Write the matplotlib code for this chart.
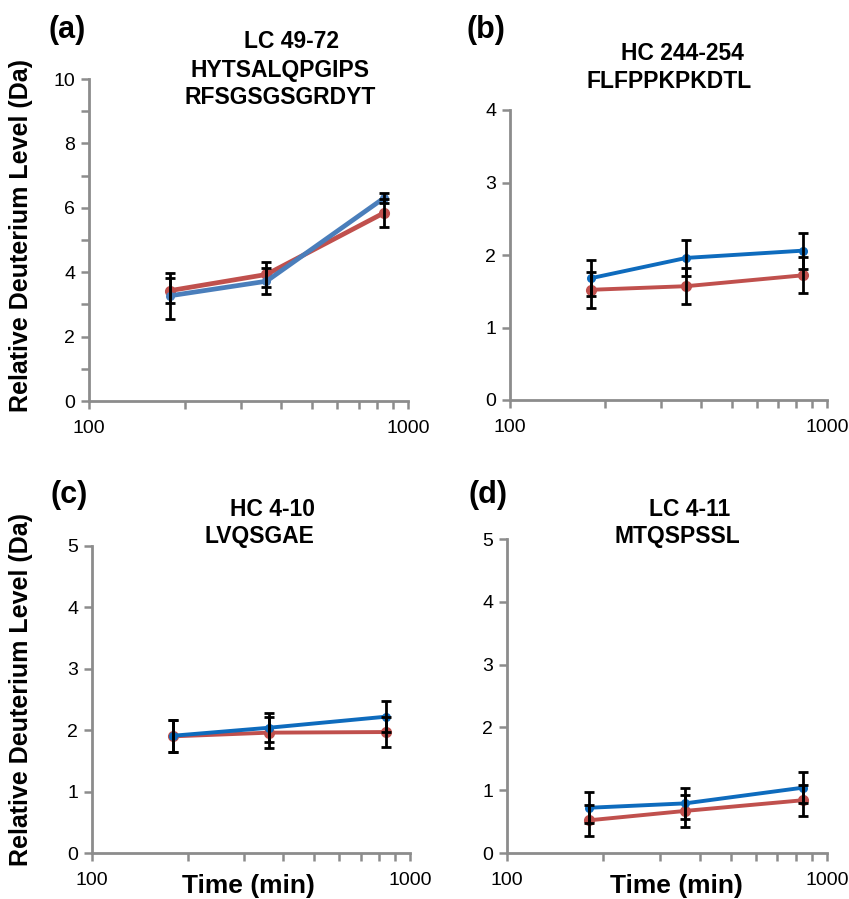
import matplotlib
matplotlib.use('Agg')
import matplotlib.pyplot as plt
from matplotlib.ticker import FixedLocator, NullFormatter

plt.rcParams['font.family'] = ['Liberation Sans', 'DejaVu Sans']

times = [180, 360, 840]

# panel (a) LC 49-72
a_blue = [3.27, 3.72, 6.30]
a_blue_err = [0.71, 0.40, 0.16]
a_red = [3.43, 3.93, 5.84]
a_red_err = [0.38, 0.38, 0.44]

# panel (b) HC 244-254
b_blue = [1.68, 1.96, 2.06]
b_blue_err = [0.25, 0.25, 0.25]
b_red = [1.52, 1.57, 1.72]
b_red_err = [0.25, 0.25, 0.25]

# panel (c) HC 4-10
c_blue = [1.91, 2.04, 2.22]
c_blue_err = [0.26, 0.24, 0.25]
c_red = [1.90, 1.96, 1.97]
c_red_err = [0.26, 0.25, 0.25]

# panel (d) LC 4-11
d_blue = [0.72, 0.79, 1.04]
d_blue_err = [0.25, 0.25, 0.25]
d_red = [0.52, 0.67, 0.84]
d_red_err = [0.25, 0.25, 0.25]

panel_tags = ['(a)', '(b)', '(c)', '(d)']
titles = [['LC 49-72', 'HYTSALQPGIPS', 'RFSGSGSGRDYT'],
          ['HC 244-254', 'FLFPPKPKDTL'],
          ['HC 4-10', 'LVQSGAE'],
          ['LC 4-11', 'MTQSPSSL']]
ymax = [10, 4, 5, 5]
yticks = [[0, 2, 4, 6, 8, 10], [0, 1, 2, 3, 4], [0, 1, 2, 3, 4, 5], [0, 1, 2, 3, 4, 5]]
ylabel = 'Relative Deuterium Level (Da)'
xlabel = 'Time (min)'

W, H = 849, 899
fig = plt.figure(figsize=(W / 100, H / 100), dpi=100)


def px_axes(x0, x1, y0, y1):
    return fig.add_axes([x0 / W, 1 - y1 / H, (x1 - x0) / W, (y1 - y0) / H])


boxes = [(89, 408, 79, 401), (510, 827, 110, 400), (92, 410, 546, 853), (507, 827, 539, 853)]
data = [(a_blue, a_blue_err, a_red, a_red_err),
        (b_blue, b_blue_err, b_red, b_red_err),
        (c_blue, c_blue_err, c_red, c_red_err),
        (d_blue, d_blue_err, d_red, d_red_err)]
blues = ['#4a7ebb', '#0e6bbd', '#0e6bbd', '#0e6bbd']
lws = [3.4, 2.8, 2.8, 2.8]
grey = '#8c8c8c'

axes = []
for i, box in enumerate(boxes):
    ax = px_axes(*box)
    blue, blue_err, red, red_err = data[i]
    ax.plot(times, red, color='#c0504d', lw=lws[i], marker='o', ms=7, zorder=2)
    ax.plot(times, blue, color=blues[i], lw=lws[i], marker='o', ms=5.5, zorder=3)
    ax.errorbar(times, red, yerr=red_err, fmt='none', ecolor='black', elinewidth=2,
                capsize=3.5, capthick=2, zorder=4)
    ax.errorbar(times, blue, yerr=blue_err, fmt='none', ecolor='black', elinewidth=2,
                capsize=3.5, capthick=2, zorder=4)
    ax.set_xscale('log')
    ax.set_xlim(100, 1000)
    ax.set_ylim(0, ymax[i])
    ax.xaxis.set_major_locator(FixedLocator([100, 1000]))
    ax.xaxis.set_minor_locator(FixedLocator([200, 300, 400, 500, 600, 700, 800, 900]))
    ax.xaxis.set_minor_formatter(NullFormatter())
    ax.set_xticklabels(['100', '1000'])
    ax.set_yticks(yticks[i])
    if i == 0:
        ax.yaxis.set_minor_locator(FixedLocator([1, 3, 5, 7, 9]))
    for s in ['top', 'right']:
        ax.spines[s].set_visible(False)
    for s in ['left', 'bottom']:
        ax.spines[s].set_color(grey)
        ax.spines[s].set_linewidth(2)
    ax.tick_params(which='both', color=grey, width=1.8, length=6, labelsize=14, pad=4)
    ax.tick_params(axis='x', pad=8)
    axes.append(ax)

# panel tags
for tag, (x, y) in zip(panel_tags, [(67, 30), (486, 30), (69, 495), (488, 495)]):
    fig.text(x / W, 1 - y / H, tag, fontsize=22, fontweight='bold', ha='center', va='center')

# peptide titles, one line each
title_pos = [[(292, 41), (280, 70), (280, 97)],
             [(682, 53), (669, 82)],
             [(272, 509), (259, 537)],
             [(690, 509), (677, 537)]]
for lines, pos in zip(titles, title_pos):
    for txt, (x, y) in zip(lines, pos):
        fig.text(x / W, 1 - y / H, txt, fontsize=16.5, fontweight='bold', ha='center', va='center')

fig.text(21 / W, 1 - 235 / H, ylabel, rotation=90, fontsize=18, fontweight='bold', ha='center', va='center')
fig.text(21 / W, 1 - 690 / H, ylabel, rotation=90, fontsize=18, fontweight='bold', ha='center', va='center')
fig.text(248 / W, 1 - 874 / H, xlabel, fontsize=19, fontweight='bold', ha='center', va='top')
fig.text(676 / W, 1 - 874 / H, xlabel, fontsize=19, fontweight='bold', ha='center', va='top')

fig.savefig('out.png', dpi=100)
